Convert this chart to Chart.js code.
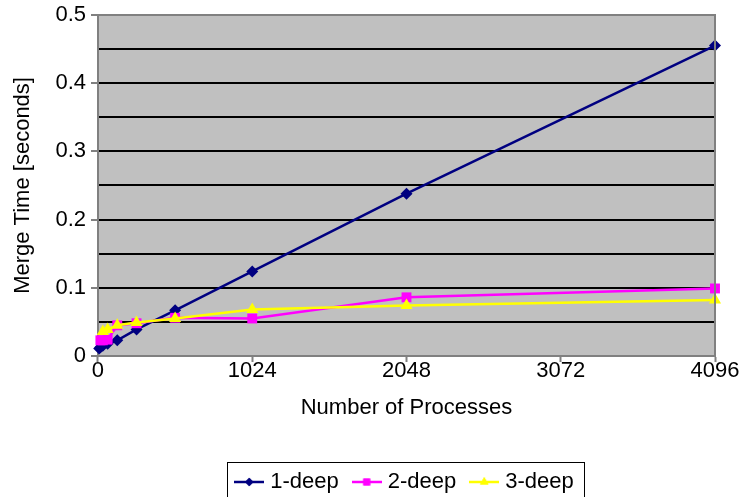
<!DOCTYPE html>
<html>
<head>
<meta charset="utf-8">
<script src="https://cdn.jsdelivr.net/npm/chart.js@4.4.0/dist/chart.umd.min.js"></script>
<style>
  html, body { margin: 0; padding: 0; background: #fff; }
</style>
</head>
<body>
<canvas id="merge-chart" width="743" height="497"></canvas>
<script>
// values
const procs1 = [8, 16, 32, 64, 128, 256, 512, 1024, 2048, 4096];
const deep1 = [0.011, 0.013, 0.015, 0.018, 0.023, 0.039, 0.067, 0.124, 0.238, 0.455];
const procs2 = [16, 32, 64, 128, 256, 512, 1024, 2048, 4096];
const deep2 = [0.023, 0.023, 0.024, 0.045, 0.048, 0.056, 0.055, 0.086, 0.099];
const procs3 = [32, 64, 128, 256, 512, 1024, 2048, 4096];
const deep3 = [0.036, 0.039, 0.045, 0.049, 0.055, 0.068, 0.074, 0.082];
const xTicks = [0, 1024, 2048, 3072, 4096];
const seriesNames = ['1-deep', '2-deep', '3-deep'];

const FONT = 'Liberation Sans, Arial, sans-serif';

function getColor(name) {
    if (name === '1-deep') {
        return '#000080'
    } else if (name === '2-deep') {
        return '#ff00ff'
    } else {
        return '#ffff00'
    }
}
function getShape(name) {
    if (name === '1-deep') return 'rectRot'
    if (name === '2-deep') return 'rect'
    return 'triangle'
}
function getRadius(name) {
    if (name === '1-deep') return 6
    if (name === '2-deep') return 7
    return 7
}

// little line+marker picture for the legend
function legendIcon(name) {
    const c = document.createElement('canvas');
    c.width = 30; c.height = 16;
    const g = c.getContext('2d');
    g.strokeStyle = getColor(name);
    g.fillStyle = getColor(name);
    g.lineWidth = 2.5;
    g.beginPath(); g.moveTo(0, 8); g.lineTo(30, 8); g.stroke();
    Chart.helpers.drawPoint(g, { pointStyle: getShape(name), radius: getRadius(name) * 0.7, borderWidth: 0 }, 15, 8);
    g.fill();
    return c;
}

function toPoints(xs, ys) {
    return xs.map((x, i) => ({ x: x, y: ys[i] }));
}

const plotBox = {
    id: 'plotBox',
    beforeDraw(chart) {
        const { ctx, chartArea: a } = chart;
        // centre the legend under the plot area
        const lg = chart.legend;
        const delta = (a.left + a.right) / 2 - (lg.left + lg.right) / 2;
        if (Math.abs(delta) > 0.5) {
            lg.left += delta;
            lg.right += delta;
            lg.legendHitBoxes.forEach(b => { b.left += delta; });
        }
        ctx.save();
        ctx.fillStyle = '#c0c0c0';
        ctx.fillRect(a.left, a.top, a.right - a.left, a.bottom - a.top);
        ctx.restore();
    },
    afterDatasetsDraw(chart) {
        const { ctx, chartArea: a } = chart;
        ctx.save();
        ctx.strokeStyle = '#808080';
        ctx.lineWidth = 2;
        ctx.beginPath();
        ctx.moveTo(a.left, a.top); ctx.lineTo(a.right, a.top); ctx.lineTo(a.right, a.bottom);
        ctx.stroke();
        ctx.restore();
    },
    afterDraw(chart) {
        const boxes = chart.legend.legendHitBoxes;
        if (!boxes || !boxes.length) return;
        const left = Math.min(...boxes.map(b => b.left)) - 12;
        const right = Math.max(...boxes.map(b => b.left + b.width)) + 10;
        const top = Math.min(...boxes.map(b => b.top)) - 9;
        const ctx = chart.ctx;
        ctx.save();
        ctx.strokeStyle = '#000';
        ctx.lineWidth = 1;
        ctx.strokeRect(Math.round(left) + 0.5, Math.round(top) + 0.5, Math.round(right - left), 60);
        ctx.restore();
    }
};

const datasets = [
    { name: seriesNames[0], data: toPoints(procs1, deep1), order: 3 },
    { name: seriesNames[1], data: toPoints(procs2, deep2), order: 2 },
    { name: seriesNames[2], data: toPoints(procs3, deep3), order: 1 }
].map(s => ({
    label: s.name,
    data: s.data,
    order: s.order,
    clip: false,
    borderColor: getColor(s.name),
    backgroundColor: getColor(s.name),
    borderWidth: 2.5,
    pointStyle: getShape(s.name),
    pointRadius: getRadius(s.name),
    pointBorderWidth: 0,
    pointBackgroundColor: getColor(s.name),
    tension: 0
}));

new Chart(document.querySelector('#merge-chart').getContext('2d'), {
    type: 'line',
    data: { datasets: datasets },
    options: {
        responsive: false,
        animation: false,
        devicePixelRatio: 1,
        layout: { padding: { left: 4, right: 28, top: 0, bottom: -6 } },
        plugins: {
            tooltip: { enabled: false },
            legend: {
                position: 'bottom',
                labels: {
                    usePointStyle: true,
                    pointStyleWidth: 20,
                    padding: 18,
                    color: '#000',
                    font: { family: FONT, size: 22 },
                    generateLabels: chart => chart.data.datasets.map((d, i) => ({
                        text: d.label,
                        fillStyle: d.borderColor,
                        strokeStyle: d.borderColor,
                        lineWidth: 0,
                        pointStyle: legendIcon(d.label),
                        hidden: false,
                        datasetIndex: i,
                        fontColor: '#000'
                    }))
                }
            }
        },
        scales: {
            x: {
                type: 'linear',
                min: 0,
                max: 4096,
                afterBuildTicks: axis => { axis.ticks = xTicks.map(v => ({ value: v })); },
                ticks: {
                    color: '#000',
                    font: { family: FONT, size: 22 },
                    padding: -4,
                    maxRotation: 0,
                    autoSkip: false,
                    callback: v => String(v)
                },
                grid: { drawOnChartArea: false, drawTicks: true, tickLength: 6, tickColor: '#808080', tickWidth: 2 },
                border: { color: '#808080', width: 2 },
                title: { display: true, text: 'Number of Processes', color: '#000', font: { family: FONT, size: 22 }, padding: { top: 14.4, bottom: 31.8 } }
            },
            y: {
                min: 0,
                max: 0.5,
                ticks: {
                    stepSize: 0.05,
                    autoSkip: false,
                    color: '#000',
                    padding: 5,
                    font: { family: FONT, size: 22, lineHeight: 0.9 },
                    callback: v => (Math.round(v * 100) % 10 === 0) ? String(Math.round(v * 10) / 10) : ''
                },
                grid: {
                    color: '#000',
                    lineWidth: 2,
                    tickLength: 7,
                    tickWidth: 2,
                    tickColor: c => (Math.round(c.tick.value * 100) % 10 === 0) ? '#808080' : 'rgba(0,0,0,0)'
                },
                border: { color: '#808080', width: 2 },
                title: { display: true, text: 'Merge Time [seconds]', color: '#000', font: { family: FONT, size: 22 }, padding: { top: 5.3, bottom: 14.7 } }
            }
        }
    },
    plugins: [plotBox]
});
</script>
</body>
</html>
